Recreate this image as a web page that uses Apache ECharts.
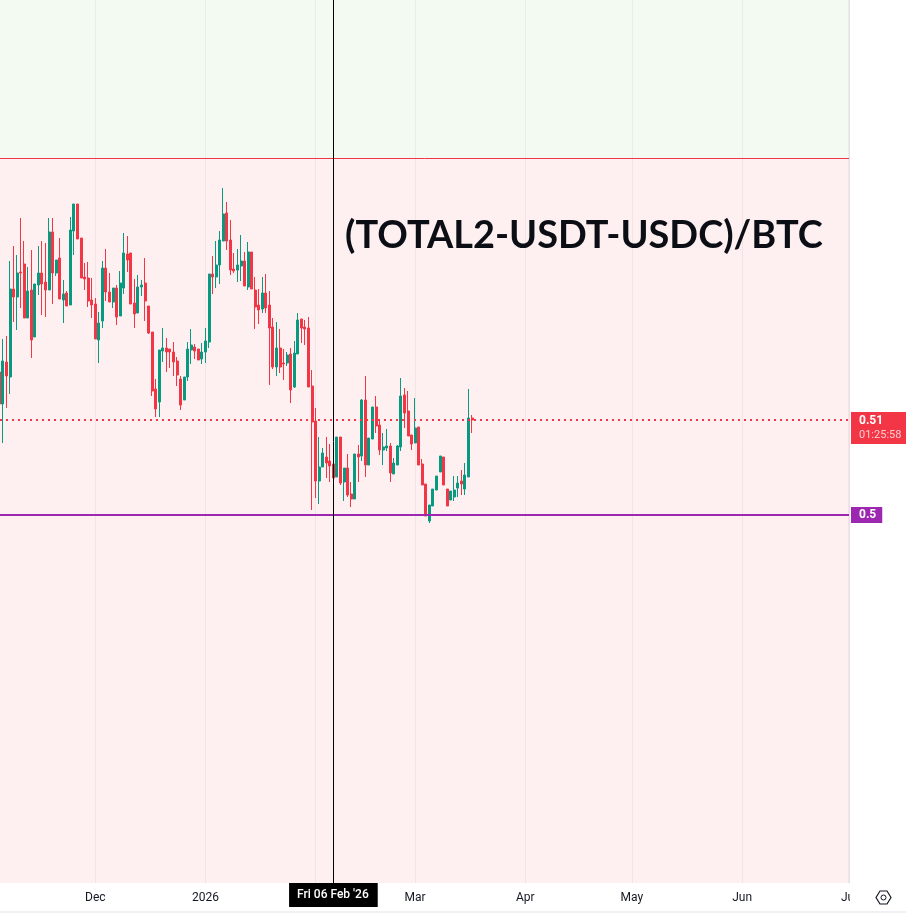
<!DOCTYPE html>
<html>
<head>
<meta charset="utf-8">
<style>html,body{margin:0;padding:0;background:#fff}#c{width:906px;height:916px}</style>
<script src="https://cdn.jsdelivr.net/npm/echarts@6/dist/echarts.min.js"></script>
</head>
<body>
<div id="c"></div>
<script>
var chartTitle = "(TOTAL2-USDT-USDC)/BTC";
var firstCandle = [2025, 10, 4];
var monthLabels = ["2026","Feb","Mar","Apr","May","Jun","Jul","Aug","Sep","Oct","Nov","Dec"];
var crosshairDate = "2026-02-06";
var crosshairLabel = "Fri 06 Feb '26";
var lastPrice = 0.5095;
var lastPriceLabel = "0.51";
var countdownLabel = "01:25:58";
var supportLevel = 0.5;
var supportLabel = "0.5";
var zoneBoundary = 0.5357;
var yMin = 0.4632, yMax = 0.5515;

var opens = [
0.5143,0.5111,0.5153,0.5138,0.5226,0.5218,0.5243,0.5251,0.5197,0.5225,0.5178,0.5230,0.5242,0.5233,0.5225,0.5283,0.5242,0.5257,0.5215,0.5222,0.5210,0.5284,0.5311,0.5277,
0.5238,0.5237,0.5215,0.5211,0.5175,0.5194,0.5247,0.5223,0.5213,0.5227,0.5199,0.5227,0.5261,0.5262,0.5212,0.5202,0.5228,0.5232,0.5209,0.5183,0.5126,0.5113,0.5164,0.5167,
0.5166,0.5163,0.5154,0.5136,0.5115,0.5138,0.5165,0.5168,0.5166,0.5156,0.5163,0.5173,0.5241,0.5238,0.5250,0.5274,0.5302,0.5275,0.5246,0.5245,0.5249,0.5254,0.5228,0.5263,
0.5225,0.5210,0.5206,0.5222,0.5210,0.5188,0.5148,0.5167,0.5152,0.5152,0.5161,0.5128,0.5161,0.5196,0.5188,0.5187,0.5129,0.5094,0.5034,0.5048,0.5058,0.5054,0.5051,0.5038,
0.5078,0.5033,0.5047,0.5021,0.5016,0.5061,0.5059,0.5115,0.5050,0.5076,0.5108,0.5090,0.5065,0.5067,0.5069,0.5041,0.5050,0.5068,0.5120,0.5104,0.5080,0.5072,0.5088,0.5051,0.5031,0.4994,0.5009,0.5025,0.5043,0.5058,0.5026,0.5015,0.5018,0.5027,0.5034,0.5026,0.5038,0.5097];
var closes = [
0.5111,0.5154,0.5139,0.5226,0.5218,0.5242,0.5242,0.5197,0.5224,0.5175,0.5231,0.5242,0.5231,0.5225,0.5283,0.5242,0.5255,0.5216,0.5221,0.5209,0.5285,0.5311,0.5276,0.5237,
0.5236,0.5214,0.5210,0.5176,0.5192,0.5247,0.5223,0.5213,0.5227,0.5198,0.5232,0.5262,0.5255,0.5211,0.5201,0.5228,0.5230,0.5214,0.5182,0.5124,0.5106,0.5165,0.5167,0.5163,
0.5163,0.5153,0.5140,0.5110,0.5138,0.5166,0.5170,0.5164,0.5155,0.5163,0.5174,0.5241,0.5238,0.5250,0.5275,0.5301,0.5274,0.5245,0.5244,0.5250,0.5254,0.5229,0.5263,0.5226,
0.5208,0.5205,0.5222,0.5207,0.5187,0.5148,0.5167,0.5148,0.5151,0.5160,0.5125,0.5162,0.5195,0.5187,0.5186,0.5128,0.5093,0.5034,0.5048,0.5062,0.5052,0.5049,0.5037,0.5078,
0.5032,0.5047,0.5020,0.5016,0.5061,0.5058,0.5115,0.5050,0.5077,0.5108,0.5089,0.5065,0.5068,0.5069,0.5042,0.5052,0.5069,0.5119,0.5102,0.5079,0.5071,0.5087,0.5050,0.5030,0.4999,0.5010,0.5026,0.5039,0.5059,0.5030,0.5009,0.5024,0.5025,0.5032,0.5031,0.5040,0.5097,0.5095];
var lows = [
0.5111,0.5072,0.5107,0.5121,0.5193,0.5185,0.5207,0.5197,0.5197,0.5157,0.5178,0.5220,0.5200,0.5198,0.5225,0.5211,0.5239,0.5216,0.5192,0.5209,0.5210,0.5260,0.5276,0.5237,
0.5225,0.5208,0.5197,0.5176,0.5152,0.5187,0.5214,0.5213,0.5207,0.5190,0.5199,0.5221,0.5243,0.5211,0.5187,0.5202,0.5219,0.5194,0.5181,0.5119,0.5098,0.5098,0.5153,0.5143,
0.5147,0.5139,0.5129,0.5105,0.5115,0.5134,0.5151,0.5156,0.5155,0.5151,0.5152,0.5167,0.5221,0.5227,0.5231,0.5274,0.5265,0.5240,0.5242,0.5233,0.5234,0.5229,0.5225,0.5226,
0.5186,0.5191,0.5202,0.5202,0.5130,0.5146,0.5139,0.5142,0.5135,0.5149,0.5112,0.5127,0.5161,0.5172,0.5170,0.5128,0.5005,0.5017,0.5011,0.5048,0.5037,0.5033,0.5008,0.5038,
0.5030,0.5014,0.5018,0.5008,0.5016,0.5033,0.5054,0.5038,0.5050,0.5076,0.5082,0.5060,0.5050,0.5064,0.5033,0.5041,0.5050,0.5064,0.5087,0.5079,0.5065,0.5072,0.5050,0.5030,0.4999,0.4992,0.5009,0.5025,0.5043,0.5030,0.5009,0.5015,0.5014,0.5018,0.5020,0.5020,0.5038,0.5082];
var highs = [
0.5143,0.5176,0.5179,0.5254,0.5269,0.5260,0.5297,0.5274,0.5248,0.5265,0.5231,0.5269,0.5274,0.5272,0.5297,0.5297,0.5255,0.5277,0.5235,0.5224,0.5298,0.5311,0.5311,0.5277,
0.5252,0.5253,0.5237,0.5217,0.5203,0.5254,0.5266,0.5242,0.5227,0.5230,0.5244,0.5282,0.5279,0.5262,0.5236,0.5240,0.5235,0.5257,0.5209,0.5183,0.5136,0.5165,0.5187,0.5177,
0.5166,0.5173,0.5158,0.5139,0.5138,0.5173,0.5186,0.5171,0.5166,0.5172,0.5187,0.5241,0.5259,0.5274,0.5284,0.5327,0.5313,0.5295,0.5262,0.5266,0.5280,0.5263,0.5273,0.5263,
0.5238,0.5226,0.5238,0.5241,0.5224,0.5197,0.5193,0.5186,0.5166,0.5163,0.5167,0.5174,0.5202,0.5196,0.5195,0.5198,0.5145,0.5107,0.5078,0.5067,0.5078,0.5071,0.5065,0.5078,
0.5078,0.5047,0.5061,0.5033,0.5061,0.5070,0.5116,0.5139,0.5077,0.5108,0.5119,0.5095,0.5082,0.5086,0.5072,0.5057,0.5070,0.5137,0.5127,0.5124,0.5080,0.5117,0.5088,0.5056,0.5031,0.5010,0.5026,0.5039,0.5059,0.5058,0.5026,0.5024,0.5039,0.5039,0.5045,0.5052,0.5126,0.5100];

var UP = "#089981", DOWN = "#F23645", PURPLE = "#9C27B0", INK = "#131722", LABEL_FONT = "Roboto,sans-serif";
var candles = opens.map(function (o, i) {
  var t = new Date(firstCandle[0], firstCandle[1], firstCandle[2] + i).getTime();
  return [t, o, closes[i], lows[i], highs[i]];
});
var axisMin = new Date(2025, 10, 4, 4, 26).getTime();
var axisMax = new Date(2026, 6, 1, 2, 0).getTime();
var crossT = new Date(crosshairDate + "T00:00:00").getTime();

var chart = echarts.init(document.getElementById("c"), null, {renderer: "canvas"});
chart.setOption({
  animation: false,
  backgroundColor: "#ffffff",
  title: {
    text: chartTitle, left: 345, top: 217, padding: 0,
    textStyle: {color: "#0B0E14", fontFamily: "Lato,'Open Sans',sans-serif", fontSize: 37.9, fontWeight: 700}
  },
  grid: {left: 0, top: 0, width: 849, height: 883, containLabel: false},
  xAxis: {
    type: "time", min: axisMin, max: axisMax, splitNumber: 8,
    axisTick: {show: false},
    axisLine: {show: false},
    splitLine: {show: true, showMinLine: false, showMaxLine: false, lineStyle: {color: "rgba(42,46,57,0.06)", width: 1}},
    axisLabel: {
      color: INK, fontSize: 12, fontFamily: LABEL_FONT, margin: 9, hideOverlap: false,
      showMinLabel: false, showMaxLabel: true,
      formatter: function (v) {
        var d = new Date(v);
        return d.getDate() === 1 ? monthLabels[d.getMonth()] : "";
      }
    }
  },
  yAxis: {
    type: "value", min: yMin, max: yMax, position: "right", scale: true,
    axisLine: {show: true, lineStyle: {color: "#E8E0E4", width: 1}},
    axisTick: {show: false}, axisLabel: {show: false}, splitLine: {show: false}
  },
  series: [{
    type: "candlestick", barWidth: 2.5, clip: true,
    data: candles,
    encode: {x: 0, y: [1, 2, 3, 4]},
    itemStyle: {color: UP, color0: DOWN, borderColor: UP, borderColor0: DOWN, borderWidth: 1},
    markArea: {
      silent: true,
      data: [
        [{yAxis: zoneBoundary, itemStyle: {color: "rgba(90,190,70,0.07)"}}, {yAxis: yMax}],
        [{yAxis: yMin, itemStyle: {color: "rgba(242,54,69,0.08)"}}, {yAxis: zoneBoundary}]
      ]
    },
    markLine: {
      silent: true, symbol: "none", animation: false, precision: 4,
      data: [
        {yAxis: zoneBoundary, lineStyle: {color: DOWN, width: 1, type: "solid"}, label: {show: false}},
        {yAxis: lastPrice, lineStyle: {color: DOWN, width: 2, type: [2, 4]},
          label: {
            show: true, position: "end", distance: 2, offset: [0, 8],
            backgroundColor: DOWN, padding: [2, 0, 2, 8], width: 47, align: "left",
            formatter: "{a|" + lastPriceLabel + "}\n{b|" + countdownLabel + "}",
            rich: {
              a: {color: "#fff", fontSize: 12, fontWeight: 700, lineHeight: 14, fontFamily: LABEL_FONT},
              b: {color: "rgba(255,255,255,0.75)", fontSize: 11, lineHeight: 14, fontFamily: LABEL_FONT}
            }
          }},
        {yAxis: supportLevel, lineStyle: {color: PURPLE, width: 2, type: "solid"},
          label: {
            show: true, position: "end", distance: 2, backgroundColor: PURPLE,
            padding: [2, 6, 2, 8], color: "#fff", fontSize: 12, fontWeight: 700,
            fontFamily: LABEL_FONT, formatter: supportLabel
          }},
        [{xAxis: crossT, yAxis: yMin, lineStyle: {color: "#000", width: 1, type: "solid"},
          label: {
            show: true, position: "start", distance: 0,
            backgroundColor: "#000", padding: [6, 9, 6, 8], color: "#fff", fontSize: 12, fontWeight: 500,
            fontFamily: LABEL_FONT, formatter: crosshairLabel
          }}, {xAxis: crossT, yAxis: yMax}]
      ]
    }
  }],
  graphic: [
    {type: "rect", z: 100, shape: {x: 850, y: 884, width: 56, height: 26}, style: {fill: "#fff"}},
    {type: "line", z: 100, shape: {x1: 0, y1: 912, x2: 906, y2: 912}, style: {stroke: "#E0E3EB", lineWidth: 1}},
    {type: "polygon", z: 101, shape: {points: [[880, 891], [887, 891], [891, 897.5], [887, 904], [880, 904], [876, 897.5]]}, style: {fill: "none", stroke: INK, lineWidth: 1.2}},
    {type: "circle", z: 101, shape: {cx: 883.5, cy: 897.5, r: 2.5}, style: {fill: "none", stroke: INK, lineWidth: 1}}
  ]
});
</script>
</body>
</html>
